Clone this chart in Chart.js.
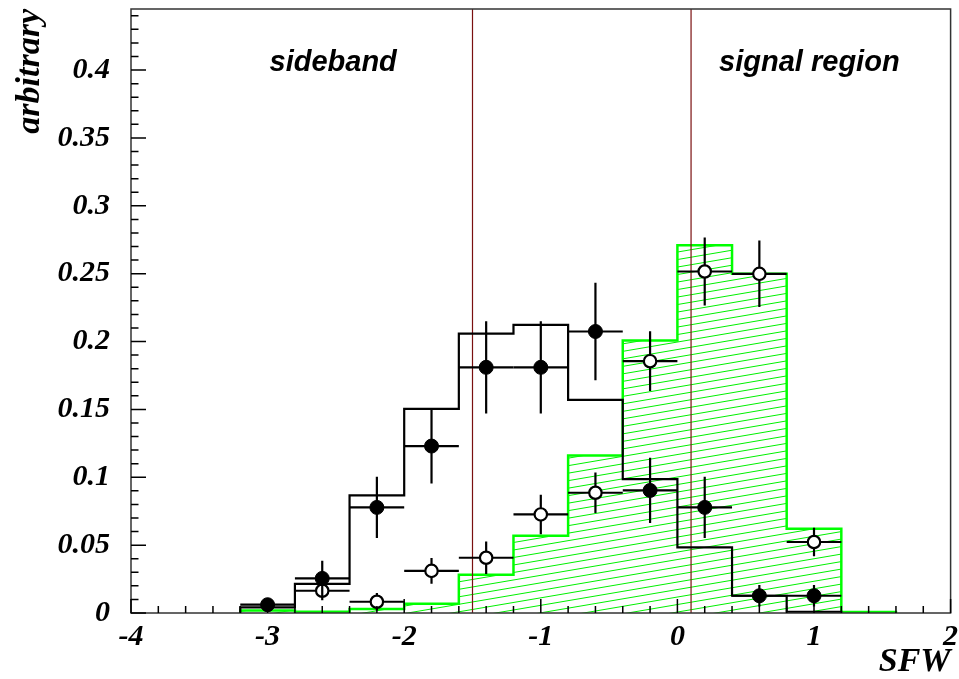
<!DOCTYPE html>
<html><head><meta charset="utf-8">
<script src="https://cdn.jsdelivr.net/npm/chart.js@4.4.0/dist/chart.umd.min.js"></script>
<style>html,body{margin:0;padding:0;background:#fff}#wrap{width:959px;height:679px;position:relative}</style>
</head><body><div id="wrap"><canvas id="c"></canvas></div>
<script>
// ---- data ----
const binEdges = [-4,-3.6,-3.2,-2.8,-2.4,-2.0,-1.6,-1.2,-0.8,-0.4,0,0.4,0.8,1.2,1.6,2.0];
const blackHist = [null,null,0.0042,0.0214,0.0866,0.1504,0.2059,0.2123,0.157,0.0987,0.0483,0.0127,0.0008,null,null];
const greenHist = [null,null,0.0018,0.0010,0.0030,0.0068,0.0282,0.0569,0.1160,0.2008,0.2710,0.2499,0.0620,0.0008,null];
const pointX = [-3.0,-2.6,-2.2,-1.8,-1.4,-1.0,-0.6,-0.2,0.2,0.6,1.0];
const filledPts = [0.0061,0.0255,0.0778,0.123,0.181,0.181,0.2074,0.0903,0.0778,0.0127,0.0127];
const filledErr = [0.0045,0.013,0.0225,0.0276,0.034,0.034,0.036,0.024,0.0225,0.008,0.008];
const openPts = [null,0.0164,0.0083,0.031,0.0407,0.0726,0.0886,0.1855,0.2516,0.2499,0.0523];
const openErr = [null,0.007,0.0065,0.0095,0.012,0.0145,0.015,0.022,0.025,0.0245,0.0105];
const cutLines = [-1.5, 0.1];
const xTicks = [-4,-3,-2,-1,0,1,2];
const xTickLabels = ['-4','-3','-2','-1','0','1','2'];
const yTicks = [0,0.05,0.1,0.15,0.2,0.25,0.3,0.35,0.4];
const yTickLabels = ['0','0.05','0.1','0.15','0.2','0.25','0.3','0.35','0.4'];
const regionLabels = [{text:'sideband', x:-2.52, y:0.399},{text:'signal region', x:0.966, y:0.399}];
const xMin = -4, xMax = 2, yMin = 0, yMax = 0.445;
const halfBin = (binEdges[1]-binEdges[0])/2;

function histSteps(vals){
  const first = vals.findIndex(v=>v!==null);
  const last = vals.length-1-[...vals].reverse().findIndex(v=>v!==null);
  const pts=[{x:binEdges[first],y:0}];
  for(let i=first;i<=last;i++) pts.push({x:binEdges[i],y:vals[i]});
  pts.push({x:binEdges[last+1],y:vals[last]});
  pts.push({x:binEdges[last+1],y:0});
  return pts;
}
const canvas = document.getElementById('c');
function makeHatch(){
  const W=88,H=15,S=7.5;
  const t=document.createElement('canvas'); t.width=W; t.height=H;
  const g=t.getContext('2d');
  g.strokeStyle='#00f000'; g.lineWidth=1;
  for(let k=-3;k<=4;k++){const b=k*S; g.beginPath(); g.moveTo(0,b+H); g.lineTo(W,b); g.stroke();}
  return canvas.getContext('2d').createPattern(t,'repeat');
}
const serif = 'Liberation Serif';
const sans = 'Liberation Sans';

const decor = {
  id:'decor',
  beforeDatasetDraw(chart,args){
    const ds = chart.data.datasets[args.index];
    if(!ds.yErr) return;
    const ctx=chart.ctx, xs=chart.scales.x, ys=chart.scales.y;
    ctx.save(); ctx.strokeStyle='#000'; ctx.lineWidth=2.2;
    ds.data.forEach((p,i)=>{
      if(p.y===null) return;
      const e=ds.yErr[i];
      const px=xs.getPixelForValue(p.x), py=ys.getPixelForValue(p.y);
      ctx.beginPath();
      ctx.moveTo(xs.getPixelForValue(p.x-halfBin),py); ctx.lineTo(xs.getPixelForValue(p.x+halfBin),py);
      ctx.moveTo(px,ys.getPixelForValue(p.y-e)); ctx.lineTo(px,ys.getPixelForValue(p.y+e));
      ctx.stroke();
    });
    ctx.restore();
  },
  afterDatasetsDraw(chart){
    const ctx=chart.ctx, xs=chart.scales.x, ys=chart.scales.y, a=chart.chartArea;
    ctx.save();
    ctx.strokeStyle='#333'; ctx.lineWidth=1.5;
    ctx.strokeRect(a.left,a.top,a.right-a.left,a.bottom-a.top);
    ctx.strokeStyle='#000'; ctx.lineWidth=1.5;
    ctx.beginPath();
    for(let i=0;i<=44;i++){
      const v=i/100, py=ys.getPixelForValue(v), len=(i%5===0)?15:7.5;
      ctx.moveTo(a.left,py); ctx.lineTo(a.left+len,py);
    }
    for(let i=0;i<=30;i++){
      const v=xMin+i*0.2, px=xs.getPixelForValue(v), len=(i%5===0)?14:7;
      ctx.moveTo(px,a.bottom); ctx.lineTo(px,a.bottom-len);
    }
    ctx.stroke();
    ctx.fillStyle='#000';
    ctx.font='italic bold 29px "'+sans+'"';
    ctx.textAlign='center'; ctx.textBaseline='alphabetic';
    regionLabels.forEach(r=>ctx.fillText(r.text, xs.getPixelForValue(r.x), ys.getPixelForValue(r.y)));
    ctx.restore();
  }
};

const ptX = (vals)=>pointX.map((x,i)=>({x:x,y:vals[i]}));
const datasets = [
  {label:'green', data:histSteps(greenHist), stepped:'before', borderColor:'#00ff00', borderWidth:2.5,
   backgroundColor:makeHatch(), fill:'origin', pointRadius:0, order:5},
  ...cutLines.map(c=>({label:'cut', data:[{x:c,y:yMin},{x:c,y:yMax}], borderColor:'#7a1010', borderWidth:1.2, pointRadius:0, fill:false, order:4})),
  {label:'black', data:histSteps(blackHist), stepped:'before', borderColor:'#000', borderWidth:2.2, pointRadius:0, fill:false, order:3},
  {label:'open', data:ptX(openPts), yErr:openErr, showLine:false, pointRadius:6.2, pointBorderWidth:2.2,
   pointBackgroundColor:'#fff', pointBorderColor:'#000', order:2},
  {label:'filled', data:ptX(filledPts), yErr:filledErr, showLine:false, pointRadius:7, pointBorderWidth:1,
   pointBackgroundColor:'#000', pointBorderColor:'#000', order:1}
];

new Chart(canvas, {
  type:'line',
  data:{datasets},
  options:{
    responsive:true, maintainAspectRatio:false, devicePixelRatio:1, animation:false,
    layout:{padding:{top:9,right:7,left:0,bottom:0}},
    plugins:{legend:{display:false}, tooltip:{enabled:false}},
    elements:{line:{tension:0}},
    scales:{
      x:{type:'linear', min:xMin, max:xMax, position:'bottom',
        afterBuildTicks:(s)=>{s.ticks=xTicks.map(v=>({value:v}));},
        afterFit:(s)=>{s.height=66; s.paddingLeft=0; s.paddingRight=0;},
        grid:{display:false, drawTicks:false}, border:{display:false},
        ticks:{callback:(v,i)=>xTickLabels[i], color:'#000', padding:6, maxRotation:0, autoSkip:false,
          font:{family:serif, size:30, style:'italic', weight:'bold'}},
        title:{display:true, text:'SFW', align:'end', color:'#000', padding:{top:0,bottom:0},
          font:{family:serif, size:34, style:'italic', weight:'bold', lineHeight:1}}
      },
      y:{type:'linear', min:yMin, max:yMax,
        afterBuildTicks:(s)=>{s.ticks=yTicks.map(v=>({value:v}));},
        afterFit:(s)=>{s.width=131; s.paddingTop=0; s.paddingBottom=0;},
        grid:{display:false, drawTicks:false}, border:{display:false},
        ticks:{callback:(v,i)=>yTickLabels[i], color:'#000', padding:21, autoSkip:false,
          font:{family:serif, size:30, style:'italic', weight:'bold'}},
        title:{display:true, text:'arbitrary', align:'end', color:'#000', padding:{top:13,bottom:0},
          font:{family:serif, size:34, style:'italic', weight:'bold', lineHeight:1}}
      }
    }
  },
  plugins:[decor]
});
</script></body></html>
